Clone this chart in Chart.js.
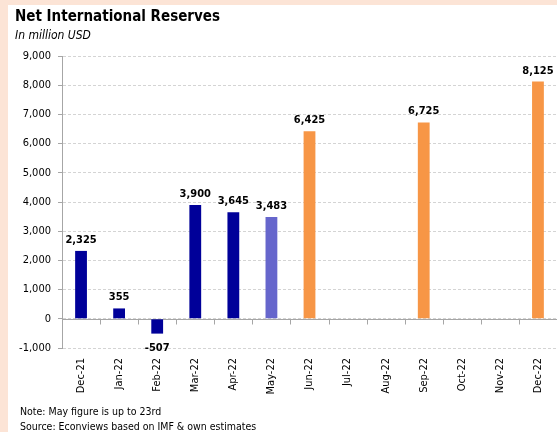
<!DOCTYPE html>
<html>
<head>
<meta charset="utf-8">
<title>Net International Reserves</title>
<script src="https://cdn.jsdelivr.net/npm/chart.js@4.4.1/dist/chart.umd.min.js"></script>
<style>
    body { margin: 0; background: #FCE4D6; font-family: "DejaVu Sans Condensed", "DejaVu Sans", sans-serif; }
    #frame { position: absolute; left: 8px; top: 5px; width: 549px; height: 427px; background: #fff; }
    #chart { position: absolute; left: 0; top: 0; }
    .title { position: absolute; left: 15px; top: 7px; font-size: 15px; font-weight: bold; color: #000; }
    .subtitle { position: absolute; left: 15px; top: 28px; font-size: 12px; font-style: italic; color: #000; }
    .notes { position: absolute; left: 20px; top: 404px; font-size: 10.5px; line-height: 15px; color: #000; }
</style>
</head>
<body>
<div id="frame"></div>
<canvas id="chart" width="557" height="432"></canvas>
<div class="title">Net International Reserves</div>
<div class="subtitle">In million USD</div>
<div class="notes">Note: May figure is up to 23rd<br>Source: Econviews based on IMF &amp; own estimates</div>

<script>
// Meses do eixo X
const months = ['Dec-21', 'Jan-22', 'Feb-22', 'Mar-22', 'Apr-22', 'May-22', 'Jun-22',
                'Jul-22', 'Aug-22', 'Sep-22', 'Oct-22', 'Nov-22', 'Dec-22'];

// Reservas observadas (milhões de USD)
const actual = [2325, 355, -507, 3900, 3645, null, null, null, null, null, null, null, null];
// Maio: dado parcial
const partialMay = [null, null, null, null, null, 3483, null, null, null, null, null, null, null];
// Metas / projeções
const projected = [null, null, null, null, null, null, 6425, null, null, 6725, null, null, 8125];

// Limites do eixo Y
const yMin = -1000;
const yMax = 9000;
const yStep = 1000;

const fontFamily = '"DejaVu Sans Condensed", "DejaVu Sans", sans-serif';
const axisColor = '#A6A6A6';
const gridColor = '#D4D4D4';

// Linha do zero com marcas entre categorias
const zeroAxis = {
    id: 'zeroAxis',
    beforeDatasetsDraw(chart) {
        const { ctx, chartArea, scales: { x, y } } = chart;
        const y0 = Math.round(y.getPixelForValue(0)) + 0.5;
        ctx.save();
        ctx.strokeStyle = axisColor;
        ctx.lineWidth = 1;
        ctx.beginPath();
        ctx.moveTo(chartArea.left, y0);
        ctx.lineTo(chartArea.right, y0);
        const half = (x.getPixelForTick(1) - x.getPixelForTick(0)) / 2;
        for (let i = 1; i < months.length; i++) {
            const xb = Math.round(x.getPixelForTick(i) - half) + 0.5;
            ctx.moveTo(xb, y0);
            ctx.lineTo(xb, y0 + 5);
        }
        ctx.stroke();
        ctx.restore();
    }
};

// Rótulos de valor sobre as barras
const valueLabels = {
    id: 'valueLabels',
    afterDatasetsDraw(chart) {
        const ctx = chart.ctx;
        ctx.save();
        ctx.font = 'bold 11px ' + fontFamily;
        ctx.fillStyle = '#000';
        ctx.textAlign = 'center';
        chart.data.datasets.forEach((ds, i) => {
            chart.getDatasetMeta(i).data.forEach((bar, j) => {
                const v = ds.data[j];
                if (v === null || v === undefined) return;
                const txt = v.toLocaleString('en-US');
                if (v >= 0) {
                    ctx.textBaseline = 'alphabetic';
                    ctx.fillText(txt, bar.x, bar.y - 8);
                } else {
                    ctx.textBaseline = 'top';
                    ctx.fillText(txt, bar.x, bar.y + 9);
                }
            });
        });
        ctx.restore();
    }
};

const barStyle = { barPercentage: 0.31, categoryPercentage: 1, borderWidth: 0 };

new Chart(document.getElementById('chart'), {
    type: 'bar',
    data: {
        labels: months,
        datasets: [
            Object.assign({ label: 'Actual', data: actual, backgroundColor: '#000099' }, barStyle),
            Object.assign({ label: 'May (partial)', data: partialMay, backgroundColor: '#6666CC' }, barStyle),
            Object.assign({ label: 'Projected', data: projected, backgroundColor: '#F79646' }, barStyle)
        ]
    },
    options: {
        responsive: false,
        animation: false,
        layout: { padding: { left: 8, top: 56, right: -3, bottom: 34 } },
        plugins: {
            legend: { display: false },
            tooltip: { enabled: false }
        },
        scales: {
            x: {
                stacked: true,
                grid: { display: false, drawTicks: false },
                border: { display: false },
                ticks: {
                    minRotation: 90,
                    maxRotation: 90,
                    padding: 10,
                    color: '#000',
                    font: { family: fontFamily, size: 11 }
                },
                afterFit(scale) {
                    scale.height = 50;
                    scale.paddingLeft = 0;
                    scale.paddingRight = 0;
                }
            },
            y: {
                stacked: true,
                min: yMin,
                max: yMax,
                grid: {
                    color: gridColor,
                    tickColor: axisColor,
                    tickLength: 4,
                    tickBorderDash: []
                },
                border: { display: true, color: axisColor, dash: [3, 2] },
                ticks: {
                    stepSize: yStep,
                    padding: 7,
                    color: '#000',
                    font: { family: fontFamily, size: 11 },
                    callback: v => v.toLocaleString('en-US')
                },
                afterFit(scale) { scale.width = 54; }
            }
        }
    },
    plugins: [zeroAxis, valueLabels]
});
</script>
</body>
</html>
